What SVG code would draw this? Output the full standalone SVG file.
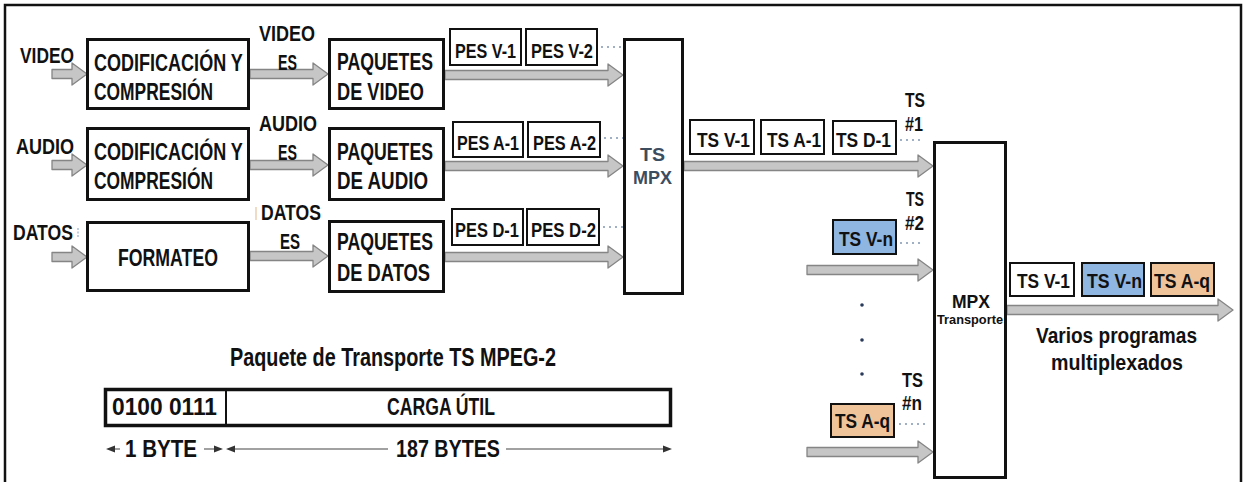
<svg xmlns="http://www.w3.org/2000/svg" width="1246" height="482" viewBox="0 0 1246 482">
<style>
.t{font-family:"Liberation Sans",Arial,sans-serif;font-weight:bold;font-size:23px;fill:#111}
.l{font-size:22px}
.p{font-size:21px}
.s{font-size:20px}
.box{fill:#fff;stroke:#111;stroke-width:3}
.pes{fill:#fff;stroke:#111;stroke-width:2}
.blue{fill:#8fb5e1}
.orange{fill:#f0c49b}
.arr{fill:#c6c6c6;stroke:#858585;stroke-width:1.3;stroke-linejoin:round}
.dots{stroke:#9fb0c4;stroke-width:2;stroke-dasharray:2 4;fill:none}
.thin{stroke:#444;stroke-width:1.2;fill:none}
.ah{fill:#333}
.mpx{fill:#3d4d60;font-size:19px}
</style>
<rect width="1246" height="482" fill="#fff"/>
<path d="M5,482 V5 H1241 V482" fill="none" stroke="#111" stroke-width="2.5"/>

<g id="connectors">
<path class="arr" d="M52,69.5 H72 V63 L87,74 L72,85 V78.5 H52 Z"/>
<path class="arr" d="M52,160.5 H72 V154 L87,165 L72,176 V169.5 H52 Z"/>
<path class="arr" d="M52,252.5 H72 V246 L87,257 L72,268 V261.5 H52 Z"/>
<path class="arr" d="M250,69.5 H313 V63 L328,74 L313,85 V78.5 H250 Z"/>
<path class="arr" d="M250,160.5 H313 V154 L328,165 L313,176 V169.5 H250 Z"/>
<path class="arr" d="M250,251.5 H313 V245 L328,256 L313,267 V260.5 H250 Z"/>
<path class="arr" d="M445,70.5 H608 V64 L623,75 L608,86 V79.5 H445 Z"/>
<path class="arr" d="M445,161.5 H608 V155 L623,166 L608,177 V170.5 H445 Z"/>
<path class="arr" d="M445,252.5 H608 V246 L623,257 L608,268 V261.5 H445 Z"/>
<path class="arr" d="M684,161.5 H918 V155 L933,166 L918,177 V170.5 H684 Z"/>
<path class="arr" d="M807,265.5 H918 V259 L933,270 L918,281 V274.5 H807 Z"/>
<path class="arr" d="M807,447.5 H918 V441 L933,452 L918,463 V456.5 H807 Z"/>
<path class="arr" d="M1007,305.5 H1218 V299 L1233,310 L1218,321 V314.5 H1007 Z"/>
<path class="dots" d="M601,47 H622 M604,138 H623 M603,227 H623 M900,140 H923 M900,243 H923 M899,424 H926"/>
<g fill="#2a3a5a"><circle cx="862" cy="305" r="1.8"/><circle cx="862" cy="340" r="1.8"/><circle cx="862" cy="374" r="1.8"/></g>
<line x1="256" y1="207" x2="256" y2="220" stroke="#ebcfb2" stroke-width="1.5"/>
<line x1="78" y1="228" x2="78" y2="238" stroke="#a9c0dc" stroke-width="1.5" stroke-dasharray="2 1.5"/>
</g>

<g id="labels-in">
<text class="t l" x="20" y="63" textLength="54" lengthAdjust="spacingAndGlyphs">VIDEO</text>
<text class="t l" x="16" y="154" textLength="58" lengthAdjust="spacingAndGlyphs">AUDIO</text>
<text class="t l" x="13" y="240" textLength="60" lengthAdjust="spacingAndGlyphs">DATOS</text>
<text class="t l" x="259" y="41" textLength="56" lengthAdjust="spacingAndGlyphs">VIDEO</text>
<text class="t l" x="278" y="70" textLength="19" lengthAdjust="spacingAndGlyphs">ES</text>
<text class="t l" x="259" y="131" textLength="58" lengthAdjust="spacingAndGlyphs">AUDIO</text>
<text class="t l" x="278" y="160" textLength="19" lengthAdjust="spacingAndGlyphs">ES</text>
<text class="t l" x="261" y="220" textLength="60" lengthAdjust="spacingAndGlyphs">DATOS</text>
<text class="t l" x="280" y="249" textLength="20" lengthAdjust="spacingAndGlyphs">ES</text>
</g>

<g id="cod-video">
<rect class="box" x="87.5" y="39.5" width="161" height="69"/>
<text class="t" transform="translate(94,71) scale(0.784,1)">CODIFICACIÓN Y</text>
<text class="t" x="94" y="100" textLength="119" lengthAdjust="spacingAndGlyphs">COMPRESIÓN</text>
</g>
<g id="cod-audio">
<rect class="box" x="87.5" y="128.5" width="161" height="71"/>
<text class="t" transform="translate(94,160) scale(0.784,1)">CODIFICACIÓN Y</text>
<text class="t" x="94" y="189" textLength="119" lengthAdjust="spacingAndGlyphs">COMPRESIÓN</text>
</g>
<g id="formateo">
<rect class="box" x="87.5" y="222.5" width="161" height="68"/>
<text class="t" x="118" y="266" textLength="100" lengthAdjust="spacingAndGlyphs">FORMATEO</text>
</g>
<g id="paq-video">
<rect class="box" x="329.5" y="39.5" width="114" height="69"/>
<text class="t" x="337" y="70" textLength="96" lengthAdjust="spacingAndGlyphs">PAQUETES</text>
<text class="t" x="337" y="100" textLength="87" lengthAdjust="spacingAndGlyphs">DE VIDEO</text>
</g>
<g id="paq-audio">
<rect class="box" x="329.5" y="128.5" width="114" height="71"/>
<text class="t" x="337" y="160" textLength="96" lengthAdjust="spacingAndGlyphs">PAQUETES</text>
<text class="t" x="337" y="189" textLength="91" lengthAdjust="spacingAndGlyphs">DE AUDIO</text>
</g>
<g id="paq-datos">
<rect class="box" x="329.5" y="221.5" width="114" height="70"/>
<text class="t" x="337" y="250" textLength="96" lengthAdjust="spacingAndGlyphs">PAQUETES</text>
<text class="t" x="337" y="281" textLength="93" lengthAdjust="spacingAndGlyphs">DE DATOS</text>
</g>

<g id="pes">
<rect class="pes" x="450" y="29" width="71" height="36"/>
<text class="t p" x="455" y="58" textLength="61" lengthAdjust="spacingAndGlyphs">PES V-1</text>
<rect class="pes" x="526" y="29" width="71" height="36"/>
<text class="t p" x="531" y="58" textLength="62" lengthAdjust="spacingAndGlyphs">PES V-2</text>
<rect class="pes" x="453" y="122" width="70" height="35"/>
<text class="t p" x="457" y="150" textLength="62" lengthAdjust="spacingAndGlyphs">PES A-1</text>
<rect class="pes" x="528" y="122" width="72" height="35"/>
<text class="t p" x="533" y="150" textLength="63" lengthAdjust="spacingAndGlyphs">PES A-2</text>
<rect class="pes" x="452" y="209" width="71" height="36"/>
<text class="t p" x="455" y="237" textLength="64" lengthAdjust="spacingAndGlyphs">PES D-1</text>
<rect class="pes" x="527" y="209" width="72" height="36"/>
<text class="t p" x="531" y="237" textLength="65" lengthAdjust="spacingAndGlyphs">PES D-2</text>
</g>

<g id="ts-mpx">
<rect class="box" x="624.5" y="39.5" width="58" height="254"/>
<text class="t mpx" x="640" y="161" textLength="25" lengthAdjust="spacingAndGlyphs">TS</text>
<text class="t mpx" x="633" y="184" textLength="39" lengthAdjust="spacingAndGlyphs">MPX</text>
</g>

<g id="ts1">
<rect class="pes" x="690" y="120" width="64" height="34"/>
<text class="t p" x="697" y="147" textLength="53" lengthAdjust="spacingAndGlyphs">TS V-1</text>
<rect class="pes" x="761" y="120" width="63" height="34"/>
<text class="t p" x="767" y="147" textLength="54" lengthAdjust="spacingAndGlyphs">TS A-1</text>
<rect class="pes" x="833" y="121" width="63" height="33"/>
<text class="t p" x="836" y="147" textLength="55" lengthAdjust="spacingAndGlyphs">TS D-1</text>
<text class="t s" x="905" y="107" textLength="20" lengthAdjust="spacingAndGlyphs">TS</text>
<text class="t s" x="905" y="131" textLength="18" lengthAdjust="spacingAndGlyphs">#1</text>
</g>

<g id="ts2">
<rect class="pes blue" x="833" y="220" width="63" height="34"/>
<text class="t p" x="839" y="246" textLength="54" lengthAdjust="spacingAndGlyphs">TS V-n</text>
<text class="t s" x="906" y="206" textLength="18" lengthAdjust="spacingAndGlyphs">TS</text>
<text class="t s" x="905" y="230" textLength="19" lengthAdjust="spacingAndGlyphs">#2</text>
</g>

<g id="tsn">
<rect class="pes orange" x="831" y="404" width="63" height="33"/>
<text class="t p" x="835" y="428" textLength="55" lengthAdjust="spacingAndGlyphs">TS A-q</text>
<text class="t s" x="902" y="387" textLength="21" lengthAdjust="spacingAndGlyphs">TS</text>
<text class="t s" x="902" y="410" textLength="20" lengthAdjust="spacingAndGlyphs">#n</text>
</g>

<g id="mpx-transporte">
<rect class="box" x="934.5" y="142.5" width="71" height="335"/>
<text class="t" x="952" y="308" style="font-size:19px" textLength="38" lengthAdjust="spacingAndGlyphs">MPX</text>
<text class="t" x="937" y="324" style="font-size:12.5px" textLength="66" lengthAdjust="spacingAndGlyphs">Transporte</text>
</g>

<g id="salida">
<rect class="pes" x="1010" y="263" width="64" height="33"/>
<text class="t p" x="1017" y="288" textLength="53" lengthAdjust="spacingAndGlyphs">TS V-1</text>
<rect class="pes blue" x="1082" y="263" width="62" height="33"/>
<text class="t p" x="1087" y="288" textLength="55" lengthAdjust="spacingAndGlyphs">TS V-n</text>
<rect class="pes orange" x="1151" y="263" width="63" height="33"/>
<text class="t p" x="1154" y="288" textLength="56" lengthAdjust="spacingAndGlyphs">TS A-q</text>
<text class="t" x="1036" y="343" style="font-size:22px" textLength="161" lengthAdjust="spacingAndGlyphs">Varios programas</text>
<text class="t" x="1051" y="370" style="font-size:22px" textLength="132" lengthAdjust="spacingAndGlyphs">multiplexados</text>
</g>

<g id="paquete-ts">
<text class="t" x="230" y="366" style="font-size:25px" textLength="326" lengthAdjust="spacingAndGlyphs">Paquete de Transporte TS MPEG-2</text>
<rect x="105.5" y="389.5" width="565" height="36" fill="#fff" stroke="#111" stroke-width="3.5"/>
<line x1="226" y1="390" x2="226" y2="425" stroke="#111" stroke-width="2"/>
<text class="t" x="112" y="415" textLength="105" lengthAdjust="spacingAndGlyphs">0100 0111</text>
<text class="t" x="387" y="415" textLength="108" lengthAdjust="spacingAndGlyphs">CARGA ÚTIL</text>
<path class="thin" d="M114,449 H120 M204,449 H215 M234,449 H388 M506,449 H664"/>
<path class="ah" d="M106,449 L115,445.5 L115,452.5 Z M223,449 L214,445.5 L214,452.5 Z M226,449 L235,445.5 L235,452.5 Z M672,449 L663,445.5 L663,452.5 Z"/>
<text class="t" x="125" y="457" textLength="72" lengthAdjust="spacingAndGlyphs">1 BYTE</text>
<text class="t" x="396" y="457" textLength="104" lengthAdjust="spacingAndGlyphs">187 BYTES</text>
</g>
</svg>
